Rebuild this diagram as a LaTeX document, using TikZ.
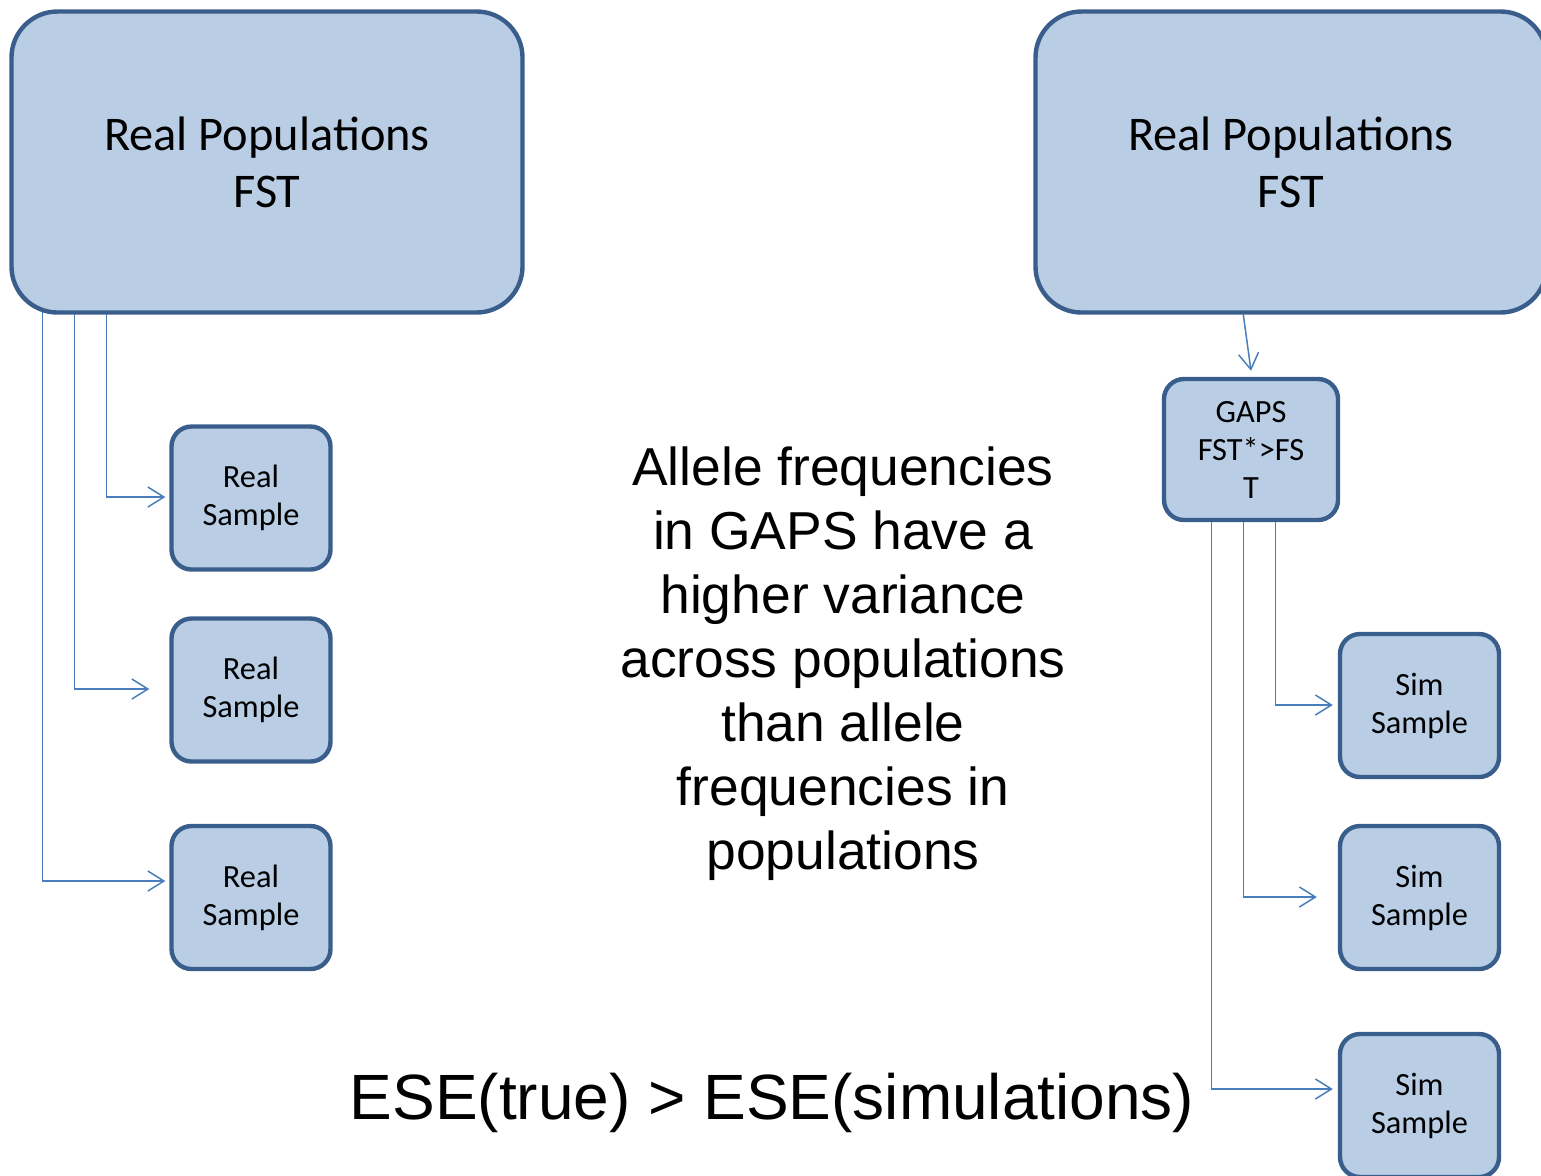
\documentclass[tikz,border=0pt]{standalone}
\usepackage{fontspec}
\setmainfont{Carlito}
\newfontfamily\arialf{Liberation Sans}
\usetikzlibrary{arrows.meta,calc,backgrounds}
\definecolor{boxfill}{HTML}{B9CDE5}
\definecolor{boxline}{HTML}{3A5E8C}
\definecolor{connc}{HTML}{4A7EBB}
\tikzset{
  bigbox/.style={draw=boxline, fill=boxfill, line width=2.2pt, rounded corners=23pt,
    minimum width=255.5pt, minimum height=150.5pt, inner sep=0pt, align=center,
    font=\fontsize{24.2}{28.5}\selectfont},
  smallbox/.style={draw=boxline, fill=boxfill, line width=2.2pt, rounded corners=10pt,
    minimum width=79.5pt, minimum height=71.5pt, inner sep=0pt, align=center,
    font=\fontsize{16.2}{19}\selectfont},
  conn/.style={draw=connc, line width=0.75pt, -{Straight Barb[length=8pt,width=10pt]}},
}
\begin{document}
\begin{tikzpicture}[x=0.5pt,y=-0.5pt]
\useasboundingbox (0,0) rectangle (1541,1175);
\clip (0,0) rectangle (1541,1175);

\node[bigbox] (bigL) at (267,162) {Real Populations\\FST};
\node[bigbox] (bigR) at (1291,162) {Real Populations\\FST};

\node[smallbox] (rs1) at (251,498) {Real\\Sample};
\node[smallbox] (rs2) at (251,690) {Real\\Sample};
\node[smallbox] (rs3) at (251,897.5) {Real\\Sample};

\node[smallbox, minimum width=87pt, minimum height=70.5pt] (gaps) at (1251,449.5) {GAPS\\FST*>FS\\T};

\node[smallbox] (ss1) at (1419.5,705.5) {Sim\\Sample};
\node[smallbox] (ss2) at (1419.5,897.5) {Sim\\Sample};
\node[smallbox] (ss3) at (1419.5,1105.5) {Sim\\Sample};

\node[font=\arialf\fontsize{26.7}{32}\selectfont, align=center] (txt) at (843,664)
  {Allele frequencies\\in GAPS have a\\higher variance\\across populations\\than allele\\frequencies in\\populations};
\node[font=\arialf\fontsize{32}{38}\selectfont] (ese) at (772,1103) {ESE(true) > ESE(simulations)};

\begin{scope}[on background layer]
\draw[conn] ($(bigL.south west)+(33,-15)$) |- ($(rs3.west)+(-4,-16.5)$);
\draw[conn] ($(bigL.south west)+(65,-15)$) |- ($(rs2.west)+(-20,-1)$);
\draw[conn] ($(bigL.south west)+(97,-15)$) |- ($(rs1.west)+(-4,-1)$);

\draw[conn] ($(bigR.south west)+(210,0)$) -- ($(gaps.north)+(0,-6)$);

\draw[conn] ($(gaps.south west)+(49.5,-10)$) |- ($(ss3.west)+(-5,-16.5)$);
\draw[conn] ($(gaps.south west)+(81.5,-10)$) |- ($(ss2.west)+(-21,-0.5)$);
\draw[conn] ($(gaps.south west)+(113.5,-10)$) |- ($(ss1.west)+(-5,-0.5)$);
\end{scope}
\end{tikzpicture}
\end{document}
